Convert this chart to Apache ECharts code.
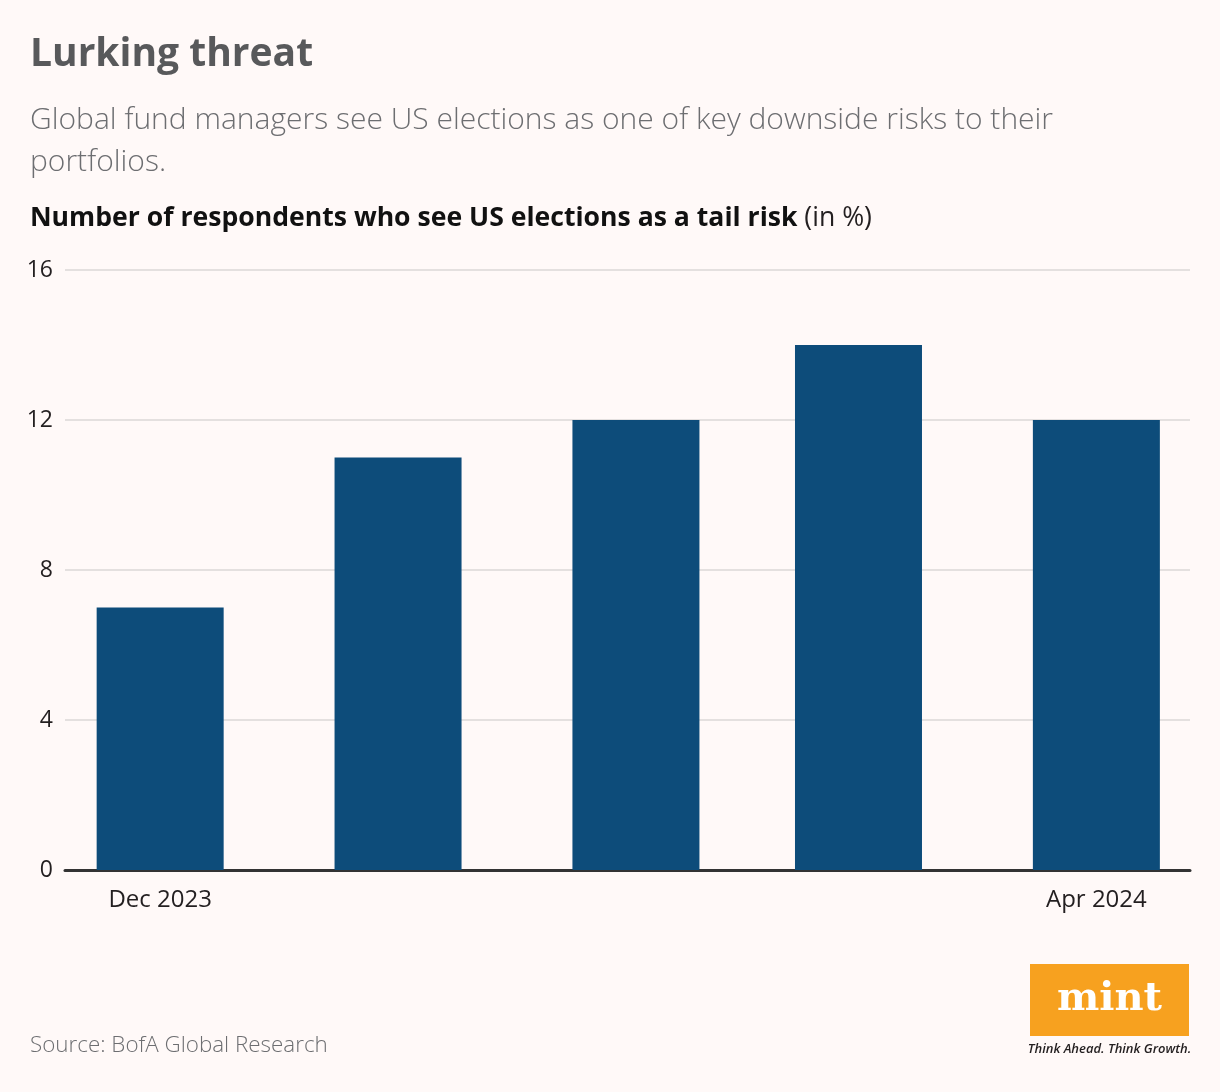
<!DOCTYPE html>
<html><head><meta charset="utf-8">
<script src="https://cdn.jsdelivr.net/npm/echarts@6/dist/echarts.min.js"></script>
<style>html,body{margin:0;padding:0;background:#fff9f8;}#c{width:1220px;height:1092px;}</style>
</head><body><div id="c"></div>
<script>
const months = ['2023-12-01','2024-01-01','2024-02-01','2024-03-01','2024-04-01'];
const values = [7, 11, 12, 14, 12];
const yTicks = [0, 4, 8, 12, 16];
const labelDates = ['2023-12-01','2024-04-01'];
const monthNames = ['Jan','Feb','Mar','Apr','May','Jun','Jul','Aug','Sep','Oct','Nov','Dec'];

const DAY = 86400000;
const toT = s => Date.UTC(+s.slice(0,4), +s.slice(5,7)-1, +s.slice(8,10));
const t0 = toT(months[0]);
const t1 = toT(months[months.length-1]);
const FONT = '"Open Sans", "Noto Sans", sans-serif';

const chart = echarts.init(document.getElementById('c'), null, {renderer:'canvas'});
chart.setOption({
  backgroundColor: '#fff9f8',
  animation: false,
  grid: {left: 65, right: 30, top: 270, bottom: 222, containLabel: false},
  xAxis: {
    type: 'value',
    min: t0 - 12.4*DAY,
    max: t1 + 12.2*DAY,
    axisLine: {show: true, onZero: false, lineStyle: {color: '#333333', width: 3}},
    axisTick: {show: false},
    splitLine: {show: false},
    axisLabel: {
      customValues: labelDates.map(toT),
      formatter: v => { const d = new Date(v); return monthNames[d.getUTCMonth()] + ' ' + d.getUTCFullYear(); },
      color: '#231f20', fontSize: 24, fontFamily: FONT, margin: 18
    }
  },
  yAxis: {
    type: 'value', min: 0, max: 16, interval: 4,
    axisLine: {show: false}, axisTick: {show: false},
    splitLine: {lineStyle: {color: '#e4e0df', width: 2}},
    axisLabel: {color: '#231f20', fontSize: 23, fontFamily: FONT, margin: 12}
  },
  series: [{
    type: 'bar',
    data: months.map((m, i) => [toT(m), values[i]]),
    barWidth: 127,
    itemStyle: {color: '#0d4c7a'}
  }],
  graphic: [
    {type:'text', left: 30, top: 35, style:{text:'Lurking threat', fill:'#58595b', font:'bold 39px ' + FONT}},
    {type:'text', left: 30, top: 99, style:{text:'Global fund managers see US elections as one of key downside risks to their\nportfolios.', fill:'#6d6e71', font:'300 30px ' + FONT, lineHeight: 42}},
    {type:'text', left: 30, top: 205, style:{
      text:'{b|Number of respondents who see US elections as a tail risk}{n| (in %)}',
      rich:{b:{fill:'#111111', font:'bold 26.6px ' + FONT}, n:{fill:'#231f20', font:'26.6px ' + FONT}}
    }},
    {type:'text', left: 30, top: 1035, style:{text:'Source: BofA Global Research', fill:'#6d6e71', font:'300 22.4px ' + FONT}},
    {type:'rect', shape:{x:1030, y:964, width:159, height:72}, style:{fill:'#f7a11f'}},
    {type:'text', x:1109.5, y:1000, style:{text:'mint', fill:'#ffffff', font:'bold 40px "DejaVu Serif", serif', align:'center', verticalAlign:'middle'}},
    {type:'text', x:1109.5, y:1049, style:{text:'Think Ahead. Think Growth.', fill:'#231f20', font:'italic 600 13px ' + FONT, align:'center', verticalAlign:'middle'}}
  ]
});
</script></body></html>
